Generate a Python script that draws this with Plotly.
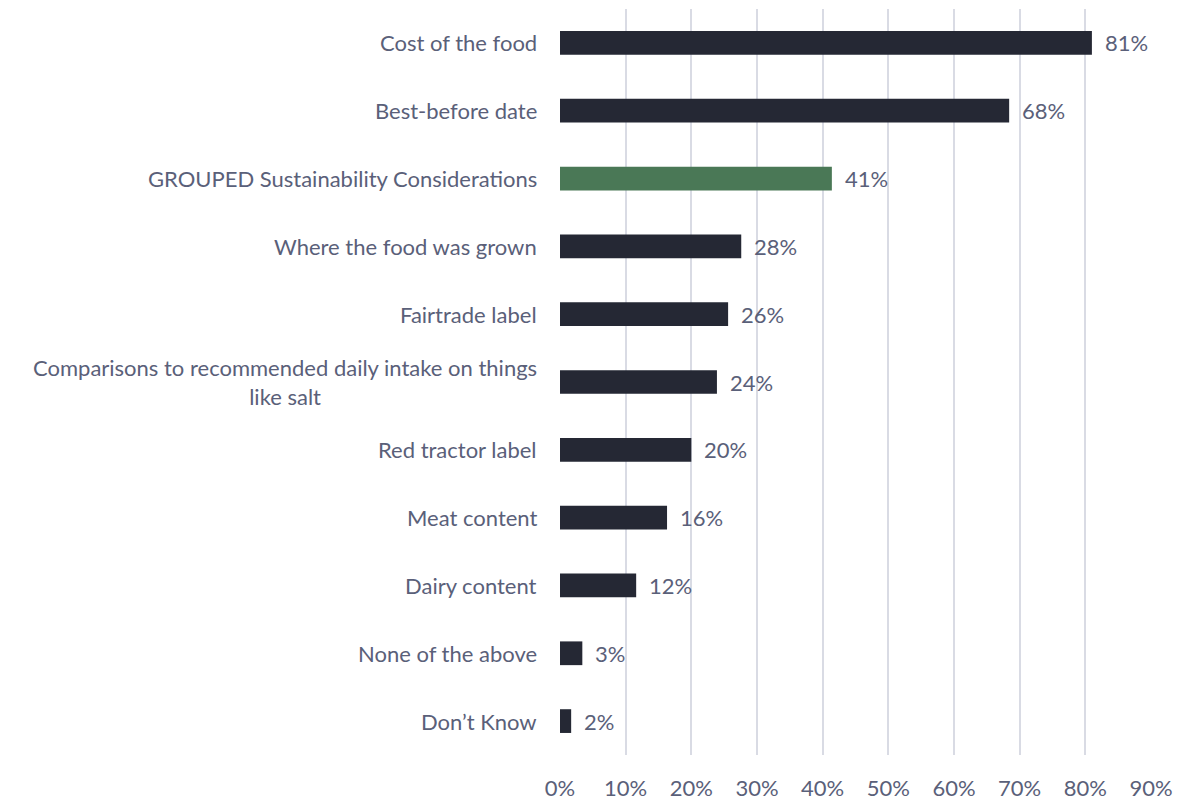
import plotly.graph_objects as go

categories = [
    "Cost of the food",
    "Best-before date",
    "GROUPED Sustainability Considerations",
    "Where the food was grown",
    "Fairtrade label",
    "Comparisons to recommended daily intake on things<br>like salt",
    "Red tractor label",
    "Meat content",
    "Dairy content",
    "None of the above",
    "Don\u2019t Know",
]
values = [81.0, 68.4, 41.4, 27.6, 25.6, 23.9, 20.0, 16.3, 11.6, 3.4, 1.7]
highlight = "GROUPED Sustainability Considerations"
tick_vals = [0, 10, 20, 30, 40, 50, 60, 70, 80, 90]
tick_text = [f"{v}%" for v in tick_vals]

DARK = "#252834"
GREEN = "#4a7856"
TEXT = "#5a6079"
GRID = "#d9dbe4"
FONT = "Lato"
FS = 22

colors = [GREEN if c == highlight else DARK for c in categories]
labels = [f"{round(v)}%" for v in values]

fig = go.Figure()
fig.add_trace(go.Bar(
    x=values,
    y=categories,
    orientation="h",
    marker=dict(color=colors, line=dict(width=0)),
    text=labels,
    textposition="none",
    hoverinfo="skip",
))

# value labels
for c, v, t in zip(categories, values, labels):
    fig.add_annotation(
        x=v, y=c, xref="x", yref="y", text=t, showarrow=False,
        xanchor="left", yanchor="middle", xshift=11,
        font=dict(family=FONT, size=FS, color=TEXT),
    )

# category labels (centered multi-line, right-anchored)
for c in categories:
    fig.add_annotation(
        x=0, y=c, xref="paper", yref="y", text=c, showarrow=False,
        xanchor="right", yanchor="middle", xshift=-21.5, align="center",
        font=dict(family=FONT, size=FS, color=TEXT),
    )

# page body has an 8px default margin, so the figure is sized to fit the window
fig.update_layout(
    width=1190, height=794,
    margin=dict(l=551.5, r=46.5, t=1, b=40.6),
    paper_bgcolor="white", plot_bgcolor="white",
    bargap=0.65,
    showlegend=False,
    font=dict(family=FONT, size=FS, color=TEXT),
)
fig.update_xaxes(
    range=[0, 90], tickvals=tick_vals, ticktext=tick_text,
    showgrid=True, gridcolor=GRID, gridwidth=2,
    zeroline=False, showline=False, ticks="",
    tickfont=dict(family=FONT, size=FS, color=TEXT),
    ticklabelstandoff=18,
    fixedrange=True,
)
fig.update_yaxes(
    categoryorder="array", categoryarray=categories[::-1],
    showticklabels=False, showgrid=False, zeroline=False, showline=False,
    fixedrange=True,
)

fig.write_html("out.html")
